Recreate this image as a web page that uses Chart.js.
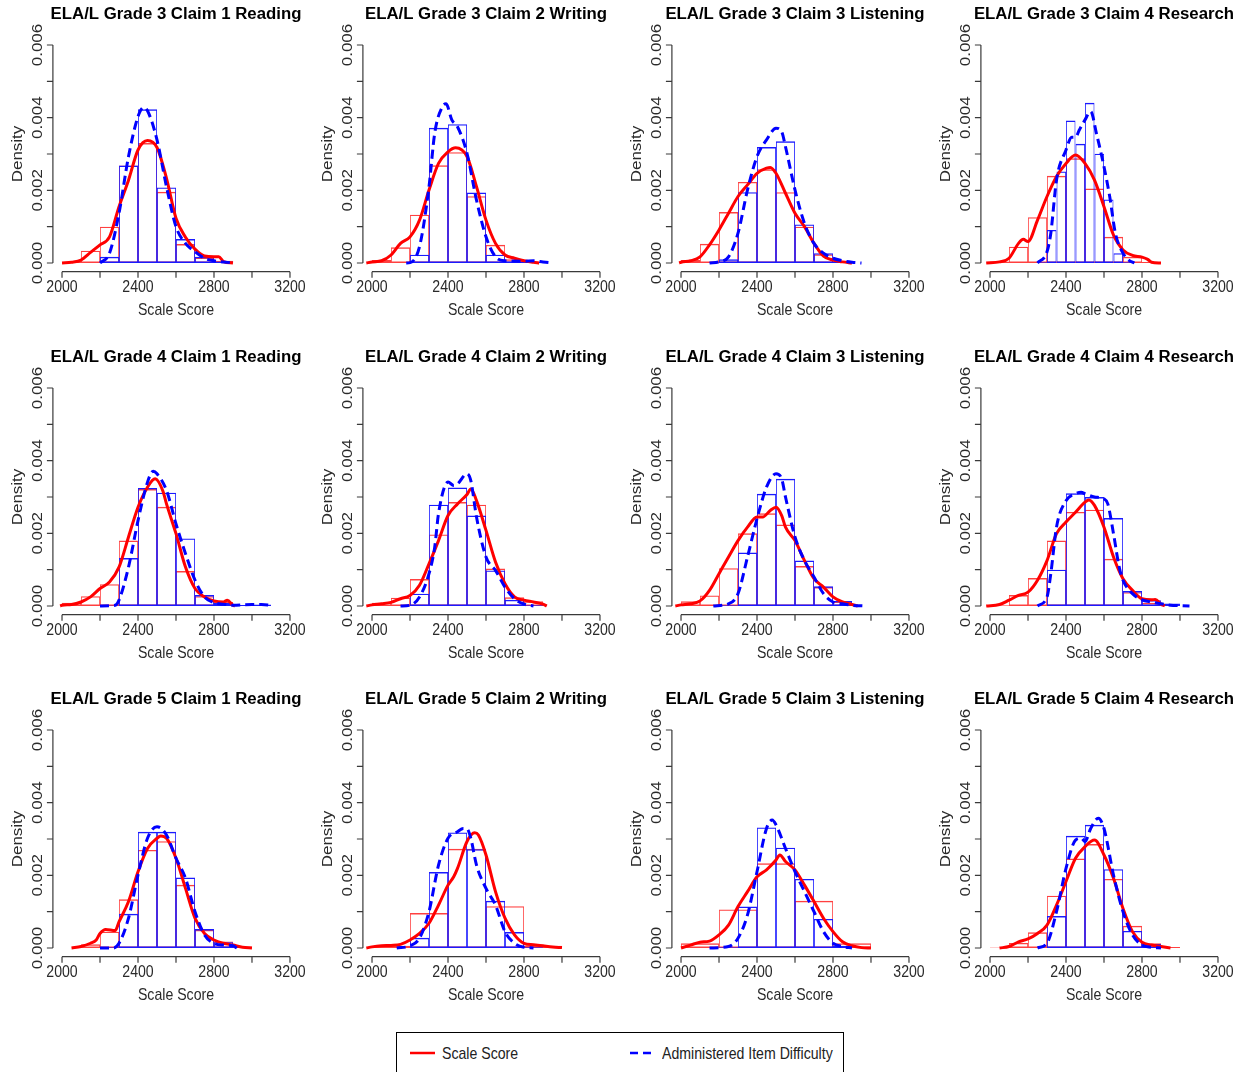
<!DOCTYPE html>
<html>
<head>
<meta charset="utf-8">
<script src="https://cdn.jsdelivr.net/npm/chart.js@4.4.1/dist/chart.umd.min.js"></script>
<style>
body { margin:0; background:#fff; width:1248px; height:1072px; overflow:hidden; position:relative; font-family:"Liberation Sans", Arial, sans-serif; }
canvas.panel { position:absolute; }
#legend { position:absolute; left:396px; top:1032px; width:448px; height:50px; border:1px solid #000; box-sizing:border-box; }
.legText { position:absolute; font-size:17px; color:#222; transform:scaleX(0.83); transform-origin:left center; white-space:nowrap; line-height:20px; }
</style>
</head>
<body>

<div id="legend"></div>
<svg style="position:absolute;left:0;top:0" width="1248" height="1072">
  <line x1="410" y1="1053" x2="435" y2="1053" stroke="#ff0000" stroke-width="2.5"/>
  <line x1="630" y1="1053" x2="656" y2="1053" stroke="#0000ff" stroke-width="2.5" stroke-dasharray="8,5"/>
</svg>
<div class="legText" style="left:442px;top:1044px">Scale Score</div>
<div class="legText" style="left:662px;top:1044px">Administered Item Difficulty</div>

<script>
// panel titles, row by row
const panelTitles = [
  "ELA/L Grade 3 Claim 1 Reading", "ELA/L Grade 3 Claim 2 Writing", "ELA/L Grade 3 Claim 3 Listening", "ELA/L Grade 3 Claim 4 Research",
  "ELA/L Grade 4 Claim 1 Reading", "ELA/L Grade 4 Claim 2 Writing", "ELA/L Grade 4 Claim 3 Listening", "ELA/L Grade 4 Claim 4 Research",
  "ELA/L Grade 5 Claim 1 Reading", "ELA/L Grade 5 Claim 2 Writing", "ELA/L Grade 5 Claim 3 Listening", "ELA/L Grade 5 Claim 4 Research"
];

const xTicks = [2000, 2200, 2400, 2600, 2800, 3000, 3200];
const xTickLabels = ["2000", "", "2400", "", "2800", "", "3200"];
const yTicks = [0, 0.001, 0.002, 0.003, 0.004, 0.005, 0.006];
const yTickLabels = ["0.000", "", "0.002", "", "0.004", "", "0.006"];

// scale score histograms (red)
const scoreBinStart = [2000, 2000, 2000, 2000, 2000, 2000, 2000, 2000, 2100, 2000, 2000, 2000];
const scoreBinWidth = [100, 100, 100, 100, 100, 100, 100, 100, 100, 200, 200, 100];
const scoreHist = [
  [0.00003, 0.00034, 0.001, 0.00268, 0.0033, 0.00196, 0.00052, 0.00015, 0.00006],
  [0.00008, 0.00043, 0.00133, 0.00269, 0.00305, 0.00184, 0.0005, 0.0001, 0.00004],
  [0.00008, 0.00053, 0.0014, 0.00223, 0.00258, 0.00195, 0.001, 0.00024, 0.00004],
  [0.00004, 0.00045, 0.00126, 0.0024, 0.00288, 0.00205, 0.00072, 0.00017, 0.00003],
  [0.00009, 0.00027, 0.0006, 0.0018, 0.00322, 0.00273, 0.00096, 0.00027, 0.00011],
  [0.00009, 0.00023, 0.00074, 0.00197, 0.00286, 0.00279, 0.00103, 0.00024, 0.00013],
  [0.00013, 0.00029, 0.00104, 0.002, 0.00255, 0.00224, 0.0011, 0.00052, 0.00012],
  [0.00002, 0.0003, 0.00077, 0.0018, 0.00259, 0.00265, 0.0013, 0.00038, 0.00009],
  [0.0001, 0.00045, 0.00134, 0.0027, 0.00294, 0.00174, 0.0005, 0.00018, 0.00004],
  [0.00006, 0.00096, 0.00273, 0.00115, 0.00006],
  [0.00013, 0.00106, 0.00233, 0.0013, 0.00013],
  [0.00001, 0.00014, 0.00043, 0.00144, 0.00246, 0.00286, 0.0019, 0.00061, 0.00013, 0.00003]
];

// administered item difficulty histograms (blue)
const itemBinStart = [2200, 2200, 2200, 2250, 2200, 2200, 2200, 2300, 2200, 2200, 2200, 2300];
const itemBinWidth = [100, 100, 100, 50, 100, 100, 100, 100, 100, 100, 100, 100];
const itemHist = [
  [0.00017, 0.00268, 0.00423, 0.00208, 0.00066, 0.00017, 0.00004],
  [0.00023, 0.00372, 0.00382, 0.00194, 0.00023, 0.00005, 0.00003],
  [0.0001, 0.00195, 0.00319, 0.00335, 0.00106, 0.00027, 0.00005],
  [0.00002, 0.00091, 0.00252, 0.00392, 0.00328, 0.00441, 0.00301, 0.00175, 0.00027, 0.00002],
  [0.00001, 0.00132, 0.00325, 0.00312, 0.00186, 0.0003, 0.00008, 0.00003, 0.00004],
  [0.00034, 0.00279, 0.00326, 0.00249, 0.00098, 0.00017, 0.00002],
  [0.00002, 0.00147, 0.00309, 0.0035, 0.00125, 0.00054, 0.00014],
  [0.001, 0.0031, 0.003, 0.00242, 0.00041, 0.00016, 0.00007],
  [0.00002, 0.00094, 0.0032, 0.0032, 0.00194, 0.00052, 0.00016, 0.00002],
  [0.00028, 0.00209, 0.00318, 0.00272, 0.0013, 0.00044, 0.00002],
  [0.00002, 0.00114, 0.00332, 0.00276, 0.0019, 0.0008, 0.00006],
  [0.00088, 0.00309, 0.00339, 0.00217, 0.00047, 0.00011]
];

// density curves, [score, density]
const scoreDensity = [
  [[2000,0],[2050,0.00002],[2100,0.00008],[2150,0.00029],[2200,0.0005],[2250,0.00072],[2300,0.00155],[2350,0.00228],[2400,0.00311],[2450,0.00337],[2500,0.00318],[2550,0.00233],[2600,0.00123],[2650,0.00071],[2700,0.00038],[2750,0.00019],[2800,0.00017],[2825,0.00017],[2850,0.00004],[2900,0]],
  [[1970,0],[2000,0.00003],[2050,0.00006],[2100,0.00022],[2150,0.00054],[2200,0.00072],[2250,0.00118],[2300,0.00201],[2350,0.00274],[2400,0.00306],[2440,0.00317],[2500,0.00293],[2550,0.0021],[2600,0.00118],[2650,0.00054],[2700,0.00022],[2750,0.00013],[2800,0.00006],[2850,0.00002],[2880,0]],
  [[1990,0],[2000,0.00002],[2050,0.00006],[2100,0.00017],[2150,0.0005],[2200,0.00091],[2250,0.00137],[2300,0.00183],[2350,0.00215],[2400,0.00247],[2450,0.00261],[2470,0.00263],[2500,0.00247],[2550,0.00192],[2600,0.00137],[2650,0.001],[2700,0.00054],[2750,0.00019],[2800,0.00008],[2850,0.00003],[2900,0]],
  [[1980,0],[2050,0.00003],[2100,0.00013],[2150,0.00054],[2175,0.00065],[2200,0.00059],[2250,0.00118],[2300,0.00183],[2350,0.00238],[2400,0.00274],[2450,0.00297],[2500,0.00274],[2550,0.00228],[2600,0.00155],[2650,0.00077],[2700,0.00036],[2750,0.00021],[2800,0.00016],[2830,0.0001],[2850,0.00002],[2900,0]],
  [[1990,0],[2000,0.00002],[2050,0.00004],[2100,0.00011],[2150,0.00025],[2200,0.00048],[2250,0.00066],[2300,0.00107],[2350,0.0019],[2400,0.00272],[2450,0.00327],[2490,0.0035],[2530,0.00318],[2550,0.00281],[2600,0.00199],[2650,0.00107],[2700,0.00048],[2750,0.00025],[2800,0.00014],[2850,0.00011],[2870,0.00016],[2900,0.00002],[2910,0]],
  [[1970,0],[2000,0.00003],[2050,0.00006],[2100,0.0001],[2150,0.0002],[2200,0.00029],[2250,0.00057],[2300,0.00116],[2350,0.0018],[2400,0.00249],[2450,0.00281],[2500,0.00307],[2520,0.00322],[2550,0.0029],[2600,0.00208],[2650,0.00121],[2700,0.00061],[2750,0.00025],[2800,0.00016],[2850,0.00011],[2900,0.00005],[2920,0]],
  [[1970,0],[2000,0.00003],[2050,0.00006],[2100,0.00014],[2150,0.00043],[2200,0.00089],[2250,0.00135],[2300,0.0018],[2350,0.00217],[2400,0.00245],[2430,0.00245],[2470,0.00263],[2500,0.00272],[2530,0.00249],[2550,0.00217],[2600,0.0018],[2650,0.00125],[2700,0.00075],[2750,0.00052],[2800,0.00025],[2850,0.00011],[2900,0.00004],[2930,0]],
  [[1980,0],[2050,0.00004],[2100,0.00016],[2150,0.00029],[2200,0.00038],[2250,0.00071],[2300,0.00125],[2350,0.00199],[2400,0.00231],[2450,0.00258],[2500,0.00286],[2520,0.00292],[2550,0.00277],[2600,0.00217],[2650,0.00135],[2700,0.00075],[2750,0.00043],[2800,0.0002],[2850,0.00017],[2870,0.00018],[2900,0.00005],[2920,0]],
  [[2050,0],[2100,0.00004],[2150,0.00013],[2180,0.00022],[2200,0.0004],[2230,0.00051],[2280,0.00048],[2300,0.00072],[2350,0.00128],[2400,0.0021],[2450,0.00274],[2500,0.00302],[2520,0.00308],[2550,0.00302],[2600,0.00247],[2650,0.00164],[2700,0.00082],[2750,0.0004],[2800,0.00022],[2850,0.00013],[2900,0.00008],[2950,0.00002],[3000,0]],
  [[1970,0],[2000,0.00003],[2050,0.00006],[2100,0.00007],[2150,0.0001],[2200,0.00022],[2250,0.0004],[2300,0.00068],[2350,0.00118],[2400,0.00173],[2430,0.00196],[2450,0.00219],[2500,0.00293],[2540,0.00317],[2560,0.00311],[2600,0.00256],[2650,0.00155],[2700,0.00082],[2750,0.00036],[2800,0.00013],[2850,0.00009],[2900,0.00006],[2950,0.00003],[3000,0.00001]],
  [[2000,0],[2050,0.00008],[2100,0.00016],[2150,0.00019],[2200,0.00036],[2250,0.00063],[2300,0.00114],[2350,0.00155],[2400,0.00196],[2450,0.00215],[2500,0.00242],[2520,0.00256],[2550,0.00238],[2600,0.00215],[2650,0.00173],[2700,0.00128],[2750,0.00082],[2800,0.00045],[2850,0.00017],[2900,0.00006],[2950,0.00001],[3000,0]],
  [[2050,0],[2100,0.00004],[2150,0.00017],[2200,0.00025],[2250,0.0004],[2300,0.00063],[2350,0.00118],[2400,0.00183],[2450,0.00247],[2500,0.00279],[2550,0.00297],[2600,0.00256],[2650,0.00192],[2700,0.00109],[2750,0.00045],[2800,0.00016],[2850,0.00008],[2900,0.00004],[2950,0]]
];

const itemDensity = [
  [[2200,0],[2250,0.00027],[2300,0.00137],[2350,0.00293],[2400,0.00403],[2430,0.00428],[2450,0.00419],[2500,0.00339],[2550,0.0021],[2600,0.001],[2650,0.00054],[2700,0.00031],[2750,0.00013],[2800,0.00006],[2850,0.00003],[2900,0]],
  [[2180,0],[2200,0.00001],[2250,0.00045],[2300,0.0021],[2330,0.00357],[2370,0.0043],[2390,0.00438],[2420,0.00394],[2450,0.00375],[2500,0.00302],[2550,0.00173],[2600,0.00072],[2650,0.00017],[2700,0.00006],[2800,0.00005],[2850,0.00006],[2900,0.00003],[2950,0]],
  [[2150,0],[2200,0.00003],[2250,0.00017],[2300,0.00082],[2350,0.00201],[2400,0.00293],[2450,0.00339],[2500,0.00371],[2530,0.00361],[2550,0.0032],[2600,0.00201],[2650,0.00109],[2700,0.00054],[2750,0.00027],[2800,0.00013],[2850,0.00006],[2900,0.00002],[2950,0]],
  [[2250,0],[2300,0.00031],[2320,0.00082],[2350,0.00228],[2400,0.00311],[2430,0.00346],[2450,0.00346],[2470,0.00366],[2500,0.00394],[2530,0.00417],[2560,0.00357],[2600,0.00265],[2630,0.00183],[2660,0.00082],[2700,0.00027],[2730,0.00008],[2760,0]],
  [[2200,0],[2280,0.00002],[2300,0.00016],[2350,0.00107],[2400,0.00235],[2450,0.00341],[2480,0.00371],[2500,0.00364],[2550,0.00318],[2600,0.00226],[2650,0.00144],[2700,0.00071],[2750,0.00025],[2800,0.00009],[2850,0.00005],[2900,0.00002],[3000,0.00004],[3050,0.00004],[3100,0.00002]],
  [[2150,0],[2200,0.00002],[2250,0.00025],[2300,0.00089],[2330,0.00162],[2350,0.00254],[2400,0.00341],[2430,0.00332],[2450,0.00336],[2500,0.00364],[2520,0.00345],[2550,0.00245],[2600,0.00135],[2650,0.00098],[2700,0.00052],[2750,0.0002],[2800,0.00005],[2850,0]],
  [[2170,0],[2250,0.00006],[2300,0.00034],[2350,0.00135],[2400,0.0024],[2450,0.00327],[2500,0.00364],[2530,0.0035],[2550,0.003],[2600,0.0019],[2650,0.00125],[2700,0.0008],[2750,0.00034],[2800,0.00011],[2850,0.00006],[2900,0.00002],[2970,0]],
  [[2250,0],[2300,0.00025],[2320,0.00089],[2350,0.00217],[2400,0.0029],[2450,0.00309],[2480,0.00313],[2500,0.00309],[2550,0.003],[2600,0.00295],[2620,0.00281],[2650,0.00199],[2680,0.00107],[2700,0.00071],[2750,0.00034],[2800,0.00017],[2850,0.00011],[2900,0.00006],[2950,0.00002],[3000,0.00001],[3050,0]],
  [[2200,0],[2270,0],[2300,0.00013],[2350,0.00082],[2400,0.00201],[2450,0.00302],[2500,0.00334],[2550,0.00311],[2600,0.00247],[2650,0.00192],[2700,0.001],[2750,0.00036],[2800,0.00013],[2850,0.00008],[2900,0.00006],[2920,0]],
  [[2130,0],[2200,0.00006],[2250,0.00027],[2300,0.001],[2350,0.00228],[2400,0.00302],[2450,0.0032],[2480,0.00329],[2500,0.00328],[2520,0.00302],[2550,0.00228],[2600,0.00164],[2650,0.00118],[2700,0.00045],[2750,0.00013],[2800,0.00002],[2850,0]],
  [[2150,0],[2250,0.00004],[2300,0.00027],[2350,0.00091],[2400,0.0021],[2450,0.00329],[2480,0.00352],[2500,0.00339],[2550,0.00274],[2600,0.0021],[2650,0.00155],[2700,0.001],[2750,0.00045],[2800,0.00013],[2850,0.00004],[2900,0]],
  [[2250,0],[2300,0.00013],[2350,0.001],[2400,0.00219],[2450,0.00297],[2480,0.00302],[2500,0.00293],[2530,0.00329],[2570,0.00357],[2600,0.00329],[2650,0.00201],[2700,0.001],[2750,0.00036],[2800,0.00008],[2850,0.00002],[2900,0]]
];

// panel geometry
const colLeft = [0, 310, 619, 928];
const rowTop = [0, 343, 685];
const PW = 309, PH = 342;
const AREA = { left: 52.9, right: 299.1, top: 36.3, bottom: 271.7 };

const NARROW = 0.83; // axis text is drawn horizontally squeezed

function rText(ctx, str, x, y, font, rot, sx, color) {
  ctx.save();
  ctx.translate(x, y);
  ctx.scale(sx, 1);
  ctx.rotate(rot);
  ctx.font = font;
  ctx.fillStyle = color;
  ctx.textAlign = "center";
  ctx.textBaseline = "middle";
  ctx.fillText(str, 0, 0);
  ctx.restore();
}

// R style axes, drawn from the chart's own scales
const rAxes = {
  id: "rAxes",
  afterDraw(chart, args, opts) {
    const ctx = chart.ctx;
    const a = chart.chartArea;
    const xs = chart.scales.x;
    const ys = chart.scales.y;
    const axFont = '17px "Liberation Sans", Arial, sans-serif';

    ctx.save();
    ctx.strokeStyle = "#3a3a3a";
    ctx.lineWidth = 1.2;
    ctx.beginPath();
    ctx.moveTo(xs.getPixelForValue(xTicks[0]), a.bottom);
    ctx.lineTo(xs.getPixelForValue(xTicks[xTicks.length - 1]), a.bottom);
    xTicks.forEach(v => {
      const px = xs.getPixelForValue(v);
      ctx.moveTo(px, a.bottom);
      ctx.lineTo(px, a.bottom + 6);
    });
    ctx.moveTo(a.left, ys.getPixelForValue(yTicks[0]));
    ctx.lineTo(a.left, ys.getPixelForValue(yTicks[yTicks.length - 1]));
    yTicks.forEach(v => {
      const py = ys.getPixelForValue(v);
      ctx.moveTo(a.left, py);
      ctx.lineTo(a.left - 6, py);
    });
    ctx.stroke();
    ctx.restore();

    xTicks.forEach((v, i) => {
      if (xTickLabels[i]) rText(ctx, xTickLabels[i], xs.getPixelForValue(v), a.bottom + 16, axFont, 0, NARROW, "#2a2a2a");
    });
    yTicks.forEach((v, i) => {
      if (yTickLabels[i]) rText(ctx, yTickLabels[i], a.left - 15, ys.getPixelForValue(v), axFont, -Math.PI / 2, NARROW, "#2a2a2a");
    });

    const cx = (a.left + a.right) / 2;
    const cy = (a.top + a.bottom) / 2;
    rText(ctx, "Scale Score", cx, a.bottom + 39, axFont, 0, NARROW, "#2a2a2a");
    rText(ctx, "Density", a.left - 35, cy, axFont, -Math.PI / 2, NARROW, "#2a2a2a");
    rText(ctx, opts.title, cx, 14, 'bold 16.8px "Liberation Sans", Arial, sans-serif', 0, 1, "#000");
  }
};

function histData(start, width, values) {
  return values.map((v, i) => ({ x: start + width * (i + 0.5), y: v }));
}

function curveData(points) {
  return points.map(p => ({ x: p[0], y: p[1] }));
}

const xAxisOpts = {
  type: "linear", axis: "x", min: 1952, max: 3248, display: false, offset: false,
  afterBuildTicks: axis => { axis.ticks = xTicks.map(v => ({ value: v })); }
};

panelTitles.forEach((title, i) => {
  const canvas = document.createElement("canvas");
  canvas.className = "panel";
  canvas.width = PW;
  canvas.height = PH;
  canvas.style.left = colLeft[i % 4] + "px";
  canvas.style.top = rowTop[Math.floor(i / 4)] + "px";
  document.body.appendChild(canvas);

  const barStyle = {
    type: "bar",
    backgroundColor: "rgba(0,0,0,0)",
    borderWidth: { top: 1.4, bottom: 1.4, left: 0.8, right: 0.8 },
    borderSkipped: false,
    inflateAmount: 0,
    barPercentage: 1,
    categoryPercentage: 1,
    grouped: false
  };

  new Chart(canvas, {
    type: "bar",
    data: {
      datasets: [
        {
          type: "line", label: "Administered Item Difficulty", order: 0,
          data: curveData(itemDensity[i]), xAxisID: "x",
          borderColor: "#0000ff", borderWidth: 3, borderDash: [9, 5],
          pointRadius: 0, fill: false, cubicInterpolationMode: "monotone"
        },
        {
          type: "line", label: "Scale Score", order: 1,
          data: curveData(scoreDensity[i]), xAxisID: "x",
          borderColor: "#ff0000", borderWidth: 3,
          pointRadius: 0, fill: false, cubicInterpolationMode: "monotone"
        },
        Object.assign({}, barStyle, {
          label: "Item histogram", order: 2, xAxisID: "xi",
          data: histData(itemBinStart[i], itemBinWidth[i], itemHist[i]),
          borderColor: "#1a1aff"
        }),
        Object.assign({}, barStyle, {
          label: "Score histogram", order: 3, xAxisID: "x",
          data: histData(scoreBinStart[i], scoreBinWidth[i], scoreHist[i]),
          borderColor: "rgba(255,0,0,0.75)"
        })
      ]
    },
    options: {
      responsive: false,
      devicePixelRatio: 1,
      animation: false,
      layout: { padding: { left: AREA.left, right: PW - AREA.right, top: AREA.top, bottom: PH - AREA.bottom } },
      scales: {
        x: xAxisOpts,
        xi: xAxisOpts,
        y: { type: "linear", min: -0.00024, max: 0.00624, display: false }
      },
      plugins: {
        legend: { display: false },
        tooltip: { enabled: false },
        rAxes: { title: title }
      }
    },
    plugins: [rAxes]
  });
});
</script>
</body>
</html>
